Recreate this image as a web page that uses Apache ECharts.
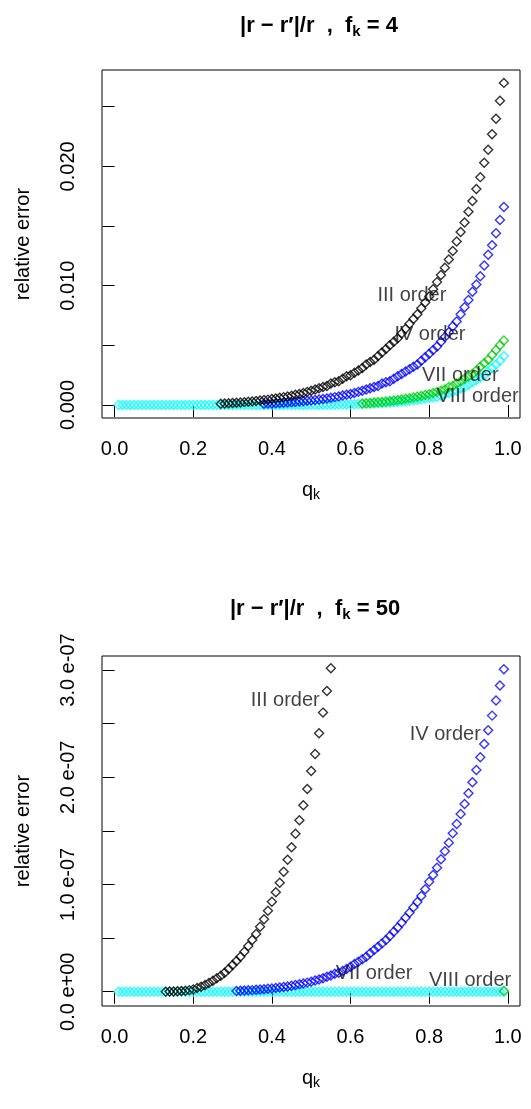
<!DOCTYPE html>
<html><head><meta charset="utf-8">
<script src="https://cdn.jsdelivr.net/npm/echarts@6/dist/echarts.min.js"></script>
<style>html,body{margin:0;padding:0;background:#fff}#c{width:531px;height:1109px}</style>
</head><body><div id="c"></div>
<script>
// ---- data ----
const qGrid = [0.01,0.02,0.03,0.04,0.05,0.06,0.07,0.08,0.09,0.10,
0.11,0.12,0.13,0.14,0.15,0.16,0.17,0.18,0.19,0.20,
0.21,0.22,0.23,0.24,0.25,0.26,0.27,0.28,0.29,0.30,
0.31,0.32,0.33,0.34,0.35,0.36,0.37,0.38,0.39,0.40,
0.41,0.42,0.43,0.44,0.45,0.46,0.47,0.48,0.49,0.50,
0.51,0.52,0.53,0.54,0.55,0.56,0.57,0.58,0.59,0.60,
0.61,0.62,0.63,0.64,0.65,0.66,0.67,0.68,0.69,0.70,
0.71,0.72,0.73,0.74,0.75,0.76,0.77,0.78,0.79,0.80,
0.81,0.82,0.83,0.84,0.85,0.86,0.87,0.88,0.89,0.90,
0.91,0.92,0.93,0.94,0.95,0.96,0.97,0.98,0.99];

// top panel (f_k = 4)
const topBlackQ = qGrid.slice(qGrid.indexOf(0.27));
const topBlack = [0.00011,0.00013,0.00015,0.00017,0.00019,0.00021,0.00024,0.00027,0.00030,0.00033,
0.00037,0.00041,0.00045,0.00050,0.00055,0.00060,0.00066,0.00072,0.00078,0.00085,
0.00093,0.0010,0.0011,0.0012,0.0013,0.0014,0.0015,0.0016,0.0018,0.0019,
0.0020,0.0022,0.0024,0.0025,0.0027,0.0029,0.0031,0.0034,0.0036,0.0038,
0.0041,0.0044,0.0047,0.0050,0.0053,0.0056,0.0060,0.0064,0.0068,0.0072,
0.0076,0.0081,0.0086,0.0091,0.0097,0.0103,0.0109,0.0115,0.0122,0.0129,
0.0137,0.0145,0.0153,0.0162,0.0171,0.0181,0.0191,0.0203,0.0214,0.0227,
0.0240,0.0255,0.0270];
const topBlueQ = qGrid.slice(qGrid.indexOf(0.38));
const topBlue = [0.00010,0.00012,0.00013,0.00015,0.00017,0.00019,0.00021,0.00023,0.00026,0.00029,
0.00032,0.00035,0.00038,0.00042,0.00046,0.00050,0.00055,0.00060,0.00066,0.00072,
0.00079,0.00086,0.00093,0.0010,0.0011,0.0012,0.0013,0.0014,0.0015,0.0016,
0.0018,0.0019,0.0020,0.0022,0.0024,0.0026,0.0028,0.0030,0.0032,0.0034,
0.0037,0.0040,0.0043,0.0046,0.0049,0.0053,0.0057,0.0061,0.0066,0.0070,
0.0076,0.0082,0.0088,0.0095,0.0101,0.0108,0.0117,0.0126,0.0134,0.0144,
0.0155,0.0166];
const topGreenQ = qGrid.slice(qGrid.indexOf(0.63));
const topGreen = [0.00013,0.00015,0.00017,0.00020,0.00023,0.00026,0.00030,0.00034,0.00038,0.00042,
0.00047,0.00052,0.00057,0.00063,0.00069,0.00076,0.00083,0.00090,0.0010,0.0011,
0.0012,0.0013,0.0015,0.0016,0.0018,0.0020,0.0022,0.0024,0.0026,0.0029,
0.0032,0.0035,0.0038,0.0042,0.0046,0.0050,0.0054];
const topCyanQ = qGrid;
const topCyan = [0,0,0,0,0,0,0,0,0,0,
0,0,0,0,0,0,0,0,0,0,
0,0,0,0,0,0,0,0,0,0,
0,0,0,0,0,0,0,0,0,0,
0,0,0,0,0,0,0,0,0,0.00001,
0.00001,0.00002,0.00002,0.00002,0.00003,0.00003,0.00004,0.00004,0.00005,0.00006,
0.00007,0.00008,0.00009,0.00010,0.00011,0.00012,0.00014,0.00016,0.00018,0.00020,
0.00023,0.00026,0.00029,0.00032,0.00036,0.00040,0.00044,0.00049,0.00054,0.00060,
0.00065,0.00070,0.00080,0.00090,0.0010,0.0011,0.0012,0.0014,0.0015,0.0017,
0.0019,0.0021,0.0023,0.0025,0.0028,0.0031,0.0034,0.0037,0.0041];
const topLabels = ['III order','IV order','VII order','VIII order'];
const topLabelQ = [0.756,0.802,0.879,0.923];
const topLabelV = [0.0092,0.0059,0.0025,0.00075];
const topYTicks = [0,0.005,0.010,0.015,0.020,0.025];
const topYLabels = [0,0.010,0.020];

// bottom panel (f_k = 50): values in units of 1e-7
const botBlackQ = qGrid.slice(qGrid.indexOf(0.13), qGrid.indexOf(0.55) + 1);
const botBlackE7 = [0.001,0.002,0.003,0.005,0.007,0.010,0.015,0.022,0.035,0.047,
0.063,0.081,0.103,0.125,0.149,0.177,0.212,0.249,0.286,0.327,
0.373,0.426,0.482,0.538,0.606,0.675,0.756,0.840,0.927,1.017,
1.119,1.231,1.347,1.474,1.599,1.739,1.891,2.059,2.217,2.410,
2.603,2.805,3.017];
const botBlueQ = qGrid.slice(qGrid.indexOf(0.31));
const botBlueE7 = [0.008,0.010,0.011,0.013,0.015,0.018,0.020,0.023,0.027,0.030,
0.034,0.039,0.044,0.049,0.055,0.062,0.069,0.076,0.085,0.094,
0.104,0.115,0.126,0.139,0.152,0.167,0.177,0.193,0.212,0.233,
0.258,0.280,0.302,0.327,0.358,0.389,0.420,0.451,0.482,0.520,
0.560,0.600,0.644,0.690,0.737,0.787,0.837,0.893,0.955,1.026,
1.089,1.157,1.235,1.310,1.390,1.477,1.564,1.658,1.751,1.851,
1.953,2.068,2.186,2.311,2.438,2.575,2.715,2.855,3.007];
const botGreenQ = [0.99];
const botGreenE7 = [0.01];
const botCyanQ = qGrid;
const botCyanE7 = [0,0,0,0,0,0,0,0,0,0,
0,0,0,0,0,0,0,0,0,0,
0,0,0,0,0,0,0,0,0,0,
0,0,0,0,0,0,0,0,0,0,
0,0,0,0,0,0,0,0,0,0,
0,0,0,0,0,0,0,0,0,0,
0,0,0,0,0,0,0,0,0,0,
0,0,0,0,0,0,0,0,0,0,
0,0,0,0,0,0,0,0,0,0,
0,0,0,0,0,0,0,0,0];
const botLabels = ['III order','IV order','VII order','VIII order'];
const botLabelQ = [0.434,0.841,0.66,0.904];
const botLabelE7 = [2.72,2.395,0.17,0.109];
const botYTicks = [0,0.5,1,1.5,2,2.5,3];
const botYLabels = [0,1,2,3];

const xTicks = [0,0.2,0.4,0.6,0.8,1.0];

// ---- chart ----
const FONT = 'Liberation Sans, Arial, sans-serif';
const chart = echarts.init(document.getElementById('c'), null, {renderer:'canvas'});

function xAx(gi){
  return {gridIndex:gi, type:'value', min:-0.032, max:1.031,
    axisLine:{show:false}, splitLine:{show:false},
    axisTick:{show:true, length:12, customValues:xTicks, lineStyle:{color:'#000'}},
    axisLabel:{customValues:xTicks, formatter:v=>v.toFixed(1), margin:21, fontSize:20, color:'#000', fontFamily:FONT},
    name:'q{s|k}', nameLocation:'middle', nameGap:60,
    nameTextStyle:{fontSize:20, color:'#000', fontFamily:FONT,
      rich:{s:{fontSize:14, color:'#000', fontFamily:FONT, padding:[10,0,0,0]}}}
  };
}
function yAx(gi, min, max, ticks, labels, fmt){
  return {gridIndex:gi, type:'value', min:min, max:max,
    axisLine:{show:false}, splitLine:{show:false},
    axisTick:{show:true, length:12, customValues:ticks, lineStyle:{color:'#000'}},
    axisLabel:{customValues:labels, formatter:fmt, rotate:90, margin:24, fontSize:20, color:'#000', fontFamily:FONT},
    name:'relative error', nameLocation:'middle', nameGap:69, nameRotate:90,
    nameTextStyle:{fontSize:20, color:'#000', fontFamily:FONT}
  };
}
function pts(qs, vs, color, gi){
  return {type:'scatter', xAxisIndex:gi, yAxisIndex:gi,
    data: qs.map((q,i)=>[q, vs[i]]), symbol:'diamond', symbolSize:[9,9],
    itemStyle:{color:'rgba(0,0,0,0)', borderColor:color, borderWidth:1.4}, silent:true};
}
function lbl(names, qs, vs, gi){
  return {type:'scatter', xAxisIndex:gi, yAxisIndex:gi, symbolSize:0, z:10, silent:true,
    data: names.map((n,i)=>({name:n, value:[qs[i], vs[i]]})),
    label:{show:true, position:'inside', formatter:'{b}', fontSize:20, color:'#111', fontFamily:FONT}};
}
const titleRich = {
  b:{fontSize:22, fontWeight:'bold', color:'#000', fontFamily:FONT},
  s:{fontSize:15, fontWeight:'bold', color:'#000', fontFamily:FONT, padding:[11,0,0,0]}
};

chart.setOption({
  animation:false,
  backgroundColor:'#fff',
  title:[
    {text:'{b||r − r′|/r  ,  f}{s|k}{b| = 4}', left:314, top:8, textAlign:'center', textStyle:{rich:titleRich}},
    {text:'{b||r − r′|/r  ,  f}{s|k}{b| = 50}', left:310, top:591, textAlign:'center', textStyle:{rich:titleRich}}
  ],
  grid:[
    {left:102, top:70, width:418, height:348, show:true, borderColor:'#000', borderWidth:1},
    {left:102, top:656, width:418, height:350, show:true, borderColor:'#000', borderWidth:1}
  ],
  xAxis:[xAx(0), xAx(1)],
  yAxis:[
    yAx(0, -0.00109, 0.02808, topYTicks, topYLabels, v=>v.toFixed(3)),
    yAx(1, -0.133, 3.131, botYTicks, botYLabels, v=>v.toFixed(1) + (v===0 ? ' e+00' : ' e-07'))
  ],
  series:[
    pts(topCyanQ, topCyan, '#00ffff', 0),
    pts(topGreenQ, topGreen, '#00cd00', 0),
    pts(topBlueQ, topBlue, '#0000ff', 0),
    pts(topBlackQ, topBlack, '#000000', 0),
    lbl(topLabels, topLabelQ, topLabelV, 0),
    pts(botCyanQ, botCyanE7, '#00ffff', 1),
    pts(botGreenQ, botGreenE7, '#00cd00', 1),
    pts(botBlueQ, botBlueE7, '#0000ff', 1),
    pts(botBlackQ, botBlackE7, '#000000', 1),
    lbl(botLabels, botLabelQ, botLabelE7, 1)
  ]
});
</script></body></html>
